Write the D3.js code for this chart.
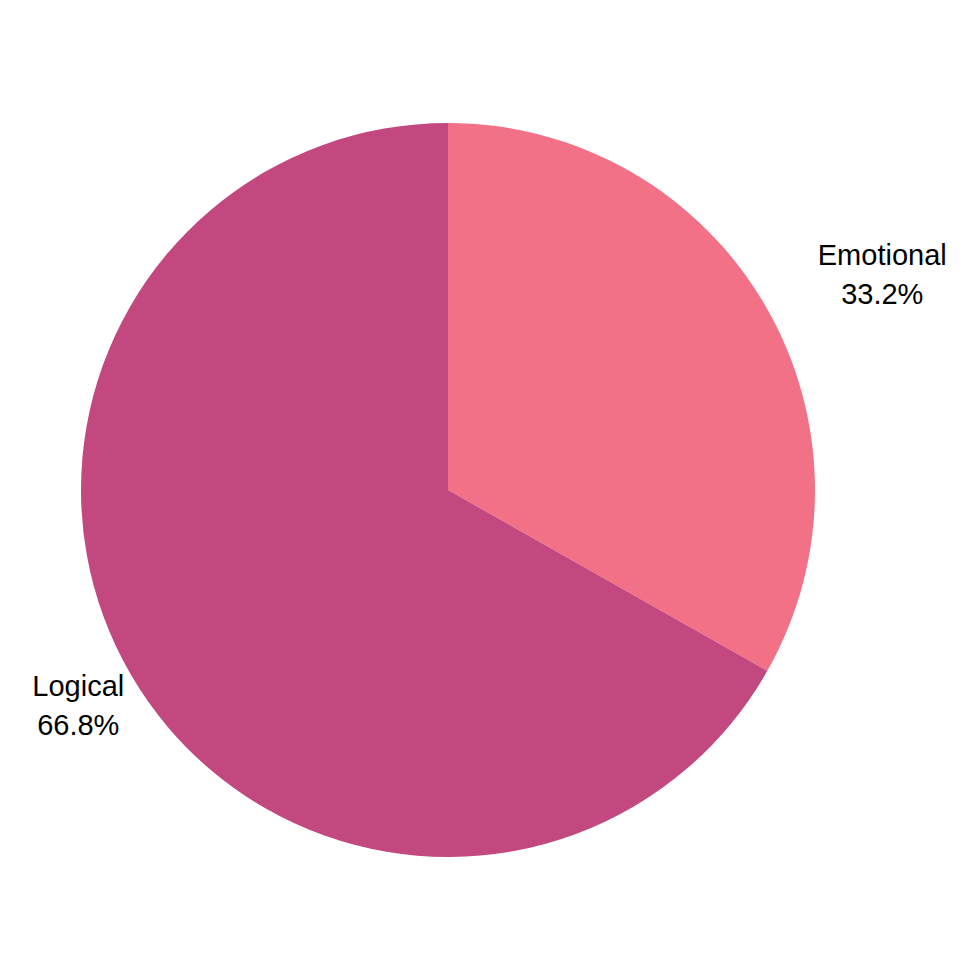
<!DOCTYPE html>
<html>
<head>
<meta charset="utf-8">
<script src="https://cdn.jsdelivr.net/npm/d3@7"></script>
<style>
  html, body { margin: 0; padding: 0; background: #fff; }
  svg { display: block; }
</style>
</head>
<body>
<svg id="chart" width="980" height="980"></svg>
<script>
const categories = ["Emotional", "Logical"];
const values = [33.2, 66.8];
const colors = ["#F37187", "#C2487F"];

const W = 980, H = 980;
const cx = 448, cy = 490, R = 367, labelR = 428;
const fontSize = 29, lineGap = 39;

const svg = d3.select("#chart");
const g = svg.append("g").attr("transform", `translate(${cx},${cy})`);

const data = categories.map((c, i) => ({ name: c, value: values[i], color: colors[i] }));
const pie = d3.pie().value(d => d.value).sort(null);
const arcs = pie(data);
const arc = d3.arc().innerRadius(0).outerRadius(R);
const labelArc = d3.arc().innerRadius(labelR).outerRadius(labelR);

g.selectAll("path.slice").data(arcs).enter().append("path")
  .attr("class", "slice")
  .attr("d", arc)
  .attr("fill", d => d.data.color);

const labels = g.selectAll("g.label").data(arcs).enter().append("g").attr("class", "label");
labels.each(function(d) {
  const [x, y] = labelArc.centroid(d);
  const sel = d3.select(this);
  const t1 = sel.append("text").text(d.data.name);
  const t2 = sel.append("text").text(d.data.value.toFixed(1) + "%");
  sel.selectAll("text")
    .attr("font-family", "Liberation Sans, Arial, sans-serif")
    .attr("font-size", fontSize)
    .attr("fill", "#000")
    .attr("text-anchor", "middle");
  const w = Math.max(t1.node().getComputedTextLength(), t2.node().getComputedTextLength());
  const mid = (d.startAngle + d.endAngle) / 2;
  const bx = mid < Math.PI ? x + w / 2 : x;
  t1.attr("x", bx).attr("y", y - lineGap / 2 + fontSize * 0.33);
  t2.attr("x", bx).attr("y", y + lineGap / 2 + fontSize * 0.33);
});
</script>
</body>
</html>
